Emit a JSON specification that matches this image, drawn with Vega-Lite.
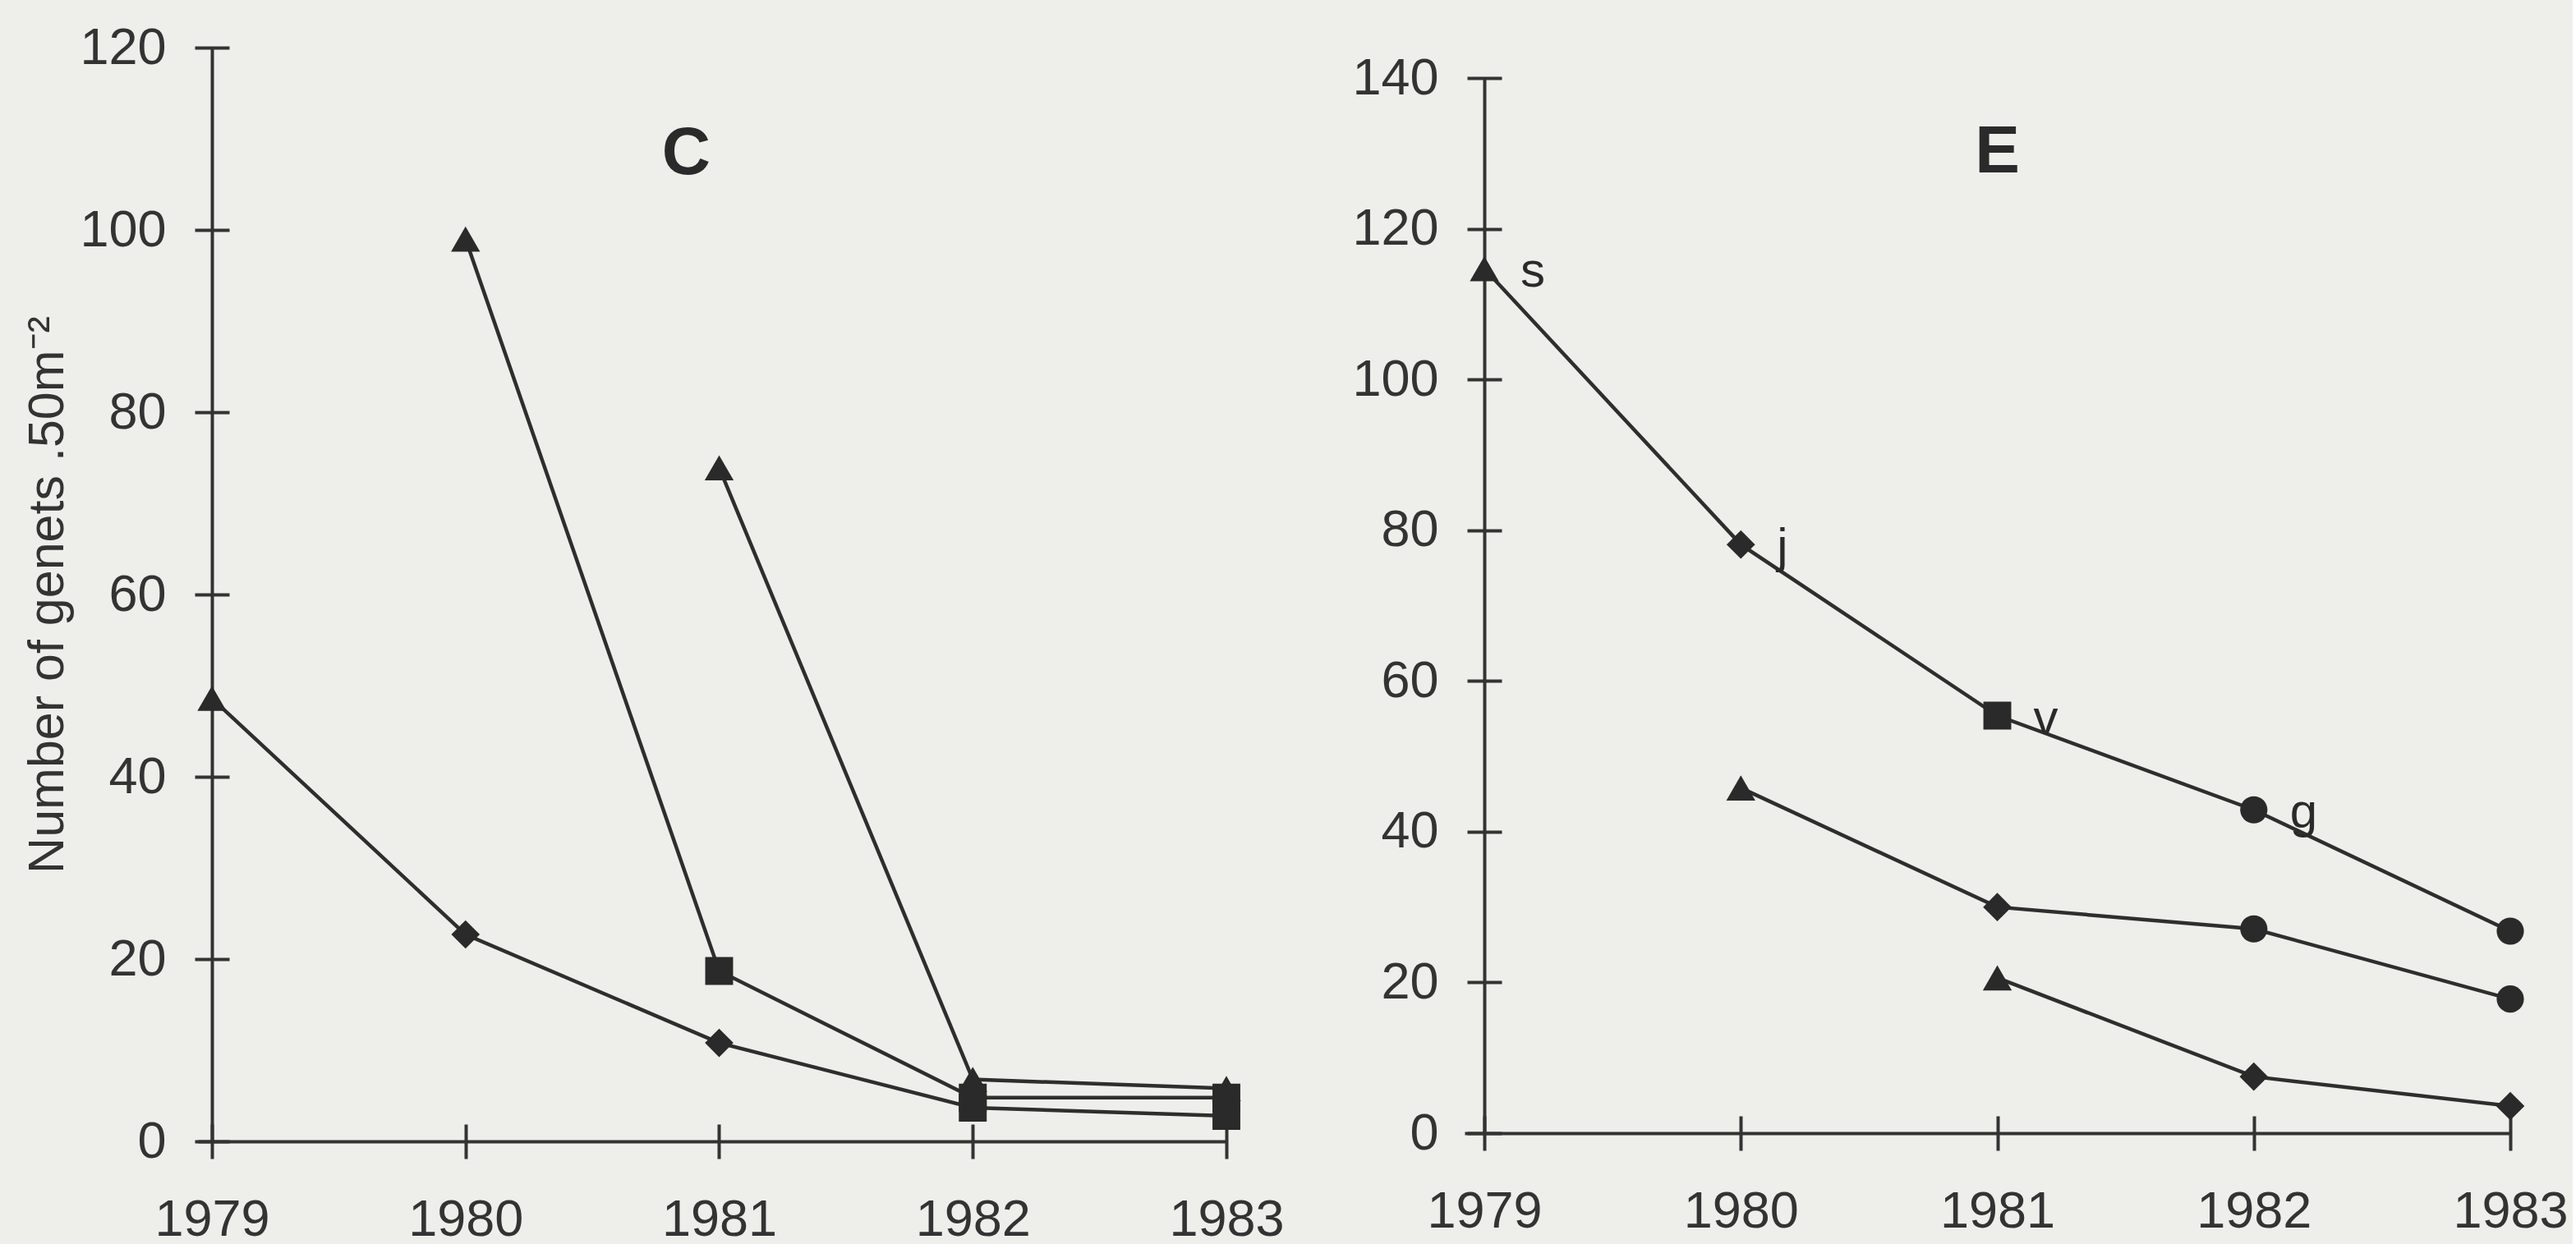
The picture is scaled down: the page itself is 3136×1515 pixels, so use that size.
{
  "$schema": "https://vega.github.io/schema/vega-lite/v6.json",
  "background": "#eeeeea",
  "padding": {"left": 27, "top": 18, "right": 5, "bottom": 5},
  "autosize": {"type": "pad"},
  "bounds": "flush",
  "spacing": 290,
  "config": {
    "view": {"stroke": null},
    "font": "Liberation Sans",
    "axis": {"grid": false, "domainColor": "#333333", "tickColor": "#333333", "labelColor": "#333333", "titleColor": "#333333", "labelFont": "Liberation Sans", "titleFont": "Liberation Sans", "labelFlush": false, "labelOverlap": false}
  },
  "datasets": {
    "points": [
      {"panel": "C", "series": "c1", "year": 1979, "value": 48.6, "shape": "tri", "label": null},
      {"panel": "C", "series": "c1", "year": 1980, "value": 22.7, "shape": "dia", "label": null},
      {"panel": "C", "series": "c1", "year": 1981, "value": 10.8, "shape": "dia", "label": null},
      {"panel": "C", "series": "c1", "year": 1982, "value": 3.7, "shape": "sq", "label": null},
      {"panel": "C", "series": "c1", "year": 1983, "value": 2.8, "shape": "sq", "label": null},
      {"panel": "C", "series": "c2", "year": 1980, "value": 99, "shape": "tri", "label": null},
      {"panel": "C", "series": "c2", "year": 1981, "value": 18.7, "shape": "sq", "label": null},
      {"panel": "C", "series": "c2", "year": 1982, "value": 4.8, "shape": "sq", "label": null},
      {"panel": "C", "series": "c2", "year": 1983, "value": 4.8, "shape": "sq", "label": null},
      {"panel": "C", "series": "c3", "year": 1981, "value": 73.9, "shape": "tri", "label": null},
      {"panel": "C", "series": "c3", "year": 1982, "value": 6.8, "shape": "tri", "label": null},
      {"panel": "C", "series": "c3", "year": 1983, "value": 5.8, "shape": "tri", "label": null},
      {"panel": "E", "series": "e1", "year": 1979, "value": 114.7, "shape": "tri", "label": "s"},
      {"panel": "E", "series": "e1", "year": 1980, "value": 78.1, "shape": "dia", "label": "j"},
      {"panel": "E", "series": "e1", "year": 1981, "value": 55.4, "shape": "sq", "label": "v"},
      {"panel": "E", "series": "e1", "year": 1982, "value": 42.9, "shape": "cir", "label": "g"},
      {"panel": "E", "series": "e1", "year": 1983, "value": 26.8, "shape": "cir", "label": null},
      {"panel": "E", "series": "e2", "year": 1980, "value": 45.8, "shape": "tri", "label": null},
      {"panel": "E", "series": "e2", "year": 1981, "value": 30.0, "shape": "dia", "label": null},
      {"panel": "E", "series": "e2", "year": 1982, "value": 27.1, "shape": "cir", "label": null},
      {"panel": "E", "series": "e2", "year": 1983, "value": 17.8, "shape": "cir", "label": null},
      {"panel": "E", "series": "e3", "year": 1981, "value": 20.6, "shape": "tri", "label": null},
      {"panel": "E", "series": "e3", "year": 1982, "value": 7.5, "shape": "dia", "label": null},
      {"panel": "E", "series": "e3", "year": 1983, "value": 3.6, "shape": "dia", "label": null}
    ],
    "letters": [
      {"panel": "C", "year": 1980.87, "value": 108.4, "text": "C"},
      {"panel": "E", "year": 1981.0, "value": 130.2, "text": "E"}
    ]
  },
  "hconcat": [
    {
      "width": 1252,
      "height": 1372,
      "resolve": {"axis": {"x": "independent", "y": "independent"}},
      "layer": [
        {
          "data": {"name": "points"},
          "transform": [{"filter": "datum.panel === 'C'"}],
          "mark": {"type": "line", "color": "#2e2e2e", "strokeWidth": 4.5},
          "encoding": {
            "x": {"field": "year", "type": "quantitative", "scale": {"domain": [1978.945, 1983], "nice": false, "zero": false},
              "axis": {"orient": "bottom", "values": [1979, 1980, 1981, 1982, 1983], "format": "d", "ticks": false, "tickSize": 0, "labelPadding": 64, "labelFontSize": 63, "domainWidth": 4, "title": null}},
            "y": {"field": "value", "type": "quantitative", "scale": {"domain": [0, 120], "range": [1372, 40], "nice": false, "zero": false},
              "axis": {"orient": "left", "offset": -17, "values": [0, 20, 40, 60, 80, 100, 120], "ticks": false, "tickSize": 0, "labelPadding": 56, "labelFontSize": 63, "domainWidth": 4, "title": "Number of genets .50m⁻²", "titleFontSize": 61, "titleFontWeight": "normal", "titlePadding": 7}},
            "detail": {"field": "series"}
          }
        },
        {
          "data": {"name": "points"},
          "transform": [{"filter": "datum.panel === 'C'"}],
          "mark": {"type": "point", "filled": true, "opacity": 1, "color": "#2a2a2a"},
          "encoding": {
            "x": {"field": "year", "type": "quantitative",
              "axis": {"orient": "bottom", "offset": -21, "values": [1979, 1980, 1981, 1982, 1983], "ticks": true, "tickSize": 42, "tickWidth": 4, "labels": false, "domain": false, "title": null}},
            "y": {"field": "value", "type": "quantitative",
              "axis": {"orient": "left", "offset": -38, "values": [0, 20, 40, 60, 80, 100, 120], "ticks": true, "tickSize": 42, "tickWidth": 4, "labels": false, "domain": false, "title": null}},
            "shape": {"field": "shape", "type": "nominal", "scale": {"domain": ["tri", "dia", "sq", "cir"], "range": ["triangle-up", "diamond", "square", "circle"]}, "legend": null},
            "size": {"field": "shape", "type": "nominal", "scale": {"domain": ["tri", "dia", "sq", "cir"], "range": [1250, 1100, 1300, 900]}, "legend": null}
          }
        },
        {
          "data": {"name": "letters"},
          "transform": [{"filter": "datum.panel === 'C'"}],
          "mark": {"type": "text", "fontSize": 82, "fontWeight": "bold", "color": "#2a2a2a", "align": "center", "baseline": "middle"},
          "encoding": {
            "x": {"field": "year", "type": "quantitative", "axis": null},
            "y": {"field": "value", "type": "quantitative", "axis": null},
            "text": {"field": "text"}
          }
        }
      ]
    },
    {
      "width": 1273,
      "height": 1362,
      "resolve": {"axis": {"x": "independent", "y": "independent"}},
      "layer": [
        {
          "data": {"name": "points"},
          "transform": [{"filter": "datum.panel === 'E'"}],
          "mark": {"type": "line", "color": "#2e2e2e", "strokeWidth": 4.5},
          "encoding": {
            "x": {"field": "year", "type": "quantitative", "scale": {"domain": [1978.923, 1983], "nice": false, "zero": false},
              "axis": {"orient": "bottom", "values": [1979, 1980, 1981, 1982, 1983], "format": "d", "ticks": false, "tickSize": 0, "labelPadding": 64, "labelFontSize": 63, "domainWidth": 4, "title": null}},
            "y": {"field": "value", "type": "quantitative", "scale": {"domain": [0, 140], "range": [1362, 77], "nice": false, "zero": false},
              "axis": {"orient": "left", "offset": -24, "values": [0, 20, 40, 60, 80, 100, 120, 140], "ticks": false, "tickSize": 0, "labelPadding": 56, "labelFontSize": 63, "domainWidth": 4, "title": null}},
            "detail": {"field": "series"}
          }
        },
        {
          "data": {"name": "points"},
          "transform": [{"filter": "datum.panel === 'E'"}],
          "mark": {"type": "point", "filled": true, "opacity": 1, "color": "#2a2a2a"},
          "encoding": {
            "x": {"field": "year", "type": "quantitative",
              "axis": {"orient": "bottom", "offset": -21, "values": [1979, 1980, 1981, 1982, 1983], "ticks": true, "tickSize": 42, "tickWidth": 4, "labels": false, "domain": false, "title": null}},
            "y": {"field": "value", "type": "quantitative",
              "axis": {"orient": "left", "offset": -45, "values": [0, 20, 40, 60, 80, 100, 120, 140], "ticks": true, "tickSize": 42, "tickWidth": 4, "labels": false, "domain": false, "title": null}},
            "shape": {"field": "shape", "type": "nominal", "scale": {"domain": ["tri", "dia", "sq", "cir"], "range": ["triangle-up", "diamond", "square", "circle"]}, "legend": null},
            "size": {"field": "shape", "type": "nominal", "scale": {"domain": ["tri", "dia", "sq", "cir"], "range": [1250, 1100, 1300, 900]}, "legend": null}
          }
        },
        {
          "data": {"name": "points"},
          "transform": [{"filter": "datum.panel === 'E' && datum.label != null"}],
          "mark": {"type": "text", "fontSize": 60, "color": "#2a2a2a", "align": "left", "baseline": "alphabetic", "dx": 44, "dy": 22},
          "encoding": {
            "x": {"field": "year", "type": "quantitative", "axis": null},
            "y": {"field": "value", "type": "quantitative", "axis": null},
            "text": {"field": "label"}
          }
        },
        {
          "data": {"name": "letters"},
          "transform": [{"filter": "datum.panel === 'E'"}],
          "mark": {"type": "text", "fontSize": 82, "fontWeight": "bold", "color": "#2a2a2a", "align": "center", "baseline": "middle"},
          "encoding": {
            "x": {"field": "year", "type": "quantitative", "axis": null},
            "y": {"field": "value", "type": "quantitative", "axis": null},
            "text": {"field": "text"}
          }
        }
      ]
    }
  ]
}
